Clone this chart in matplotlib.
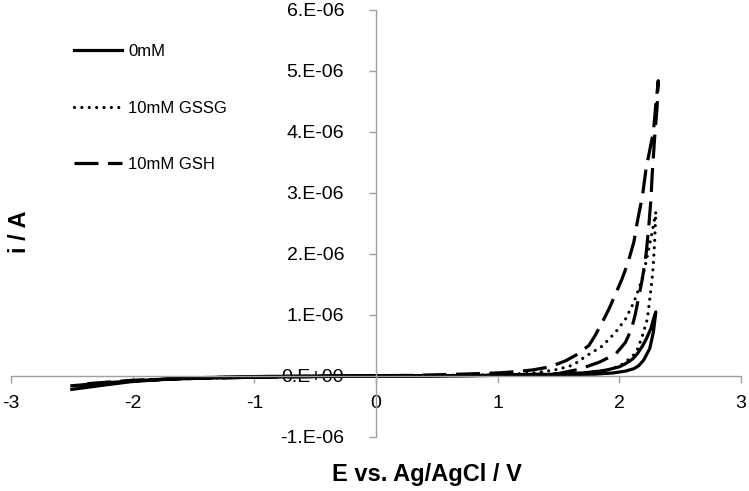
import matplotlib
matplotlib.use('Agg')
import matplotlib.pyplot as plt
from matplotlib.ticker import MultipleLocator, FuncFormatter

plt.rcParams['font.family'] = ['Liberation Sans', 'DejaVu Sans']

# 0 mM : forward (inner) and reverse (outer) branches, current in units of 1e-6 A
e_0_fwd = [-2.5, -2.2, -2.0, -1.7, -1.5, -1.0, -0.5, 0.0, 0.5, 1.0, 1.5, 1.8, 1.95, 2.05, 2.12, 2.16, 2.2, 2.25, 2.28, 2.30]
i_0_fwd = [-0.22, -0.14, -0.09, -0.05, -0.03, -0.01, 0.0, 0.0, 0.0, 0.01, 0.02, 0.03, 0.05, 0.08, 0.12, 0.17, 0.26, 0.45, 0.72, 1.05]
e_0_rev = [2.30, 2.28, 2.26, 2.22, 2.19, 2.15, 2.11, 2.05, 2.0, 1.9, 1.84, 1.7, 1.5, 1.0, 0.5, 0.0, -0.5, -1.0, -1.5, -1.8, -2.0, -2.2, -2.5]
i_0_rev = [1.05, 0.93, 0.78, 0.6, 0.49, 0.37, 0.28, 0.2, 0.15, 0.1, 0.08, 0.05, 0.03, 0.01, 0.005, 0.0, -0.01, -0.02, -0.04, -0.06, -0.08, -0.11, -0.16]

# 10 mM GSSG
e_gssg_fwd = [-2.45, -2.2, -2.0, -1.5, -1.0, 0.0, 1.0, 1.5, 1.7, 1.85, 1.92, 2.0, 2.05, 2.1, 2.14, 2.19, 2.23, 2.26, 2.27, 2.28, 2.29, 2.30]
i_gssg_fwd = [-0.2, -0.13, -0.08, -0.03, -0.01, 0.0, 0.01, 0.03, 0.05, 0.08, 0.11, 0.16, 0.23, 0.31, 0.39, 0.66, 0.93, 1.43, 1.6, 1.85, 2.2, 2.69]
e_gssg_rev = [2.30, 2.27, 2.22, 2.18, 2.12, 2.05, 1.97, 1.86, 1.73, 1.62, 1.5, 1.3, 1.0, 0.5, 0.0, -1.0, -1.5, -2.0, -2.2, -2.45]
i_gssg_rev = [2.69, 2.36, 1.87, 1.54, 1.21, 0.93, 0.72, 0.49, 0.33, 0.18, 0.11, 0.05, 0.02, 0.01, 0.0, -0.02, -0.04, -0.08, -0.11, -0.15]

# 10 mM GSH
e_gsh_fwd = [-2.4, -2.0, -1.5, -1.0, 0.0, 1.0, 1.5, 1.67, 1.84, 1.97, 2.05, 2.10, 2.13, 2.16, 2.19, 2.22, 2.24, 2.26, 2.27, 2.29, 2.31, 2.32]
i_gsh_fwd = [-0.18, -0.08, -0.03, -0.01, 0.0, 0.01, 0.04, 0.11, 0.23, 0.36, 0.55, 0.77, 1.0, 1.3, 1.6, 2.0, 2.4, 2.9, 3.3, 3.9, 4.4, 4.84]
e_gsh_rev = [2.32, 2.30, 2.28, 2.25, 2.22, 2.19, 2.15, 2.12, 2.07, 2.02, 1.97, 1.92, 1.86, 1.80, 1.75, 1.65, 1.56, 1.43, 1.29, 1.15, 1.0, 0.7, 0.3, 0.0, -0.5, -1.0, -1.5, -2.0, -2.4]
i_gsh_rev = [4.84, 4.45, 4.0, 3.7, 3.4, 2.95, 2.55, 2.2, 1.85, 1.58, 1.35, 1.12, 0.88, 0.66, 0.5, 0.35, 0.25, 0.15, 0.1, 0.07, 0.05, 0.03, 0.01, 0.005, -0.01, -0.02, -0.04, -0.07, -0.13]

labels = ['0mM', '10mM GSSG', '10mM GSH']

fig = plt.figure(figsize=(7.49, 4.91), dpi=100)
ax = fig.add_axes([0.0147, 0.110, 0.9746, 0.8697])

lw = 2.3
scale = 1e-6
curves = [
    (e_0_fwd + e_0_rev, i_0_fwd + i_0_rev, dict(linestyle='-')),
    (e_gssg_fwd + e_gssg_rev, i_gssg_fwd + i_gssg_rev, dict(linestyle=(0, (0.01, 2.3)), dash_capstyle='round')),
    (e_gsh_fwd + e_gsh_rev, i_gsh_fwd + i_gsh_rev, dict(linestyle=(0, (7.5, 3)))),
]
for (e, i, style), lab in zip(curves, labels):
    ax.plot(e, [v * scale for v in i], color='black', lw=lw, label=lab, **style)

ax.set_xlim(-3, 3)
ax.set_ylim(-1e-6, 6e-6)
ax.xaxis.set_major_locator(MultipleLocator(1))
ax.yaxis.set_major_locator(MultipleLocator(1e-6))
ax.yaxis.set_major_formatter(FuncFormatter(lambda v, p: '{:#.0E}'.format(v)))
ax.xaxis.set_major_formatter(FuncFormatter(lambda v, p: '{:g}'.format(v)))

axis_col = '#a0a0a0'
for s in ['top', 'right']:
    ax.spines[s].set_visible(False)
ax.spines['left'].set_position(('data', 0))
ax.spines['bottom'].set_position(('data', 0))
for s in ['left', 'bottom']:
    ax.spines[s].set_color(axis_col)
    ax.spines[s].set_linewidth(1)
ax.tick_params(axis='both', colors=axis_col, labelcolor='black', labelsize=14,
               length=5, width=1, direction='out')
ax.tick_params(axis='y', pad=18)
ax.tick_params(axis='x', pad=9)
ax.set_axisbelow(True)
ax.patch.set_visible(False)

fig.text(427 / 749, 1 - 474 / 491, 'E vs. Ag/AgCl / V', fontsize=17, fontweight='bold',
         ha='center', va='center')
fig.text(19 / 749, 1 - 232 / 491, 'i / A', fontsize=17, fontweight='bold',
         ha='center', va='center', rotation=90)

fig.legend(loc='upper left', bbox_to_anchor=(74 / 749, 1 - 44 / 491), frameon=False,
           fontsize=12, handlelength=2.9, handletextpad=0.35, labelspacing=2.5,
           borderpad=0, borderaxespad=0)

fig.savefig('out.png', dpi=100)
